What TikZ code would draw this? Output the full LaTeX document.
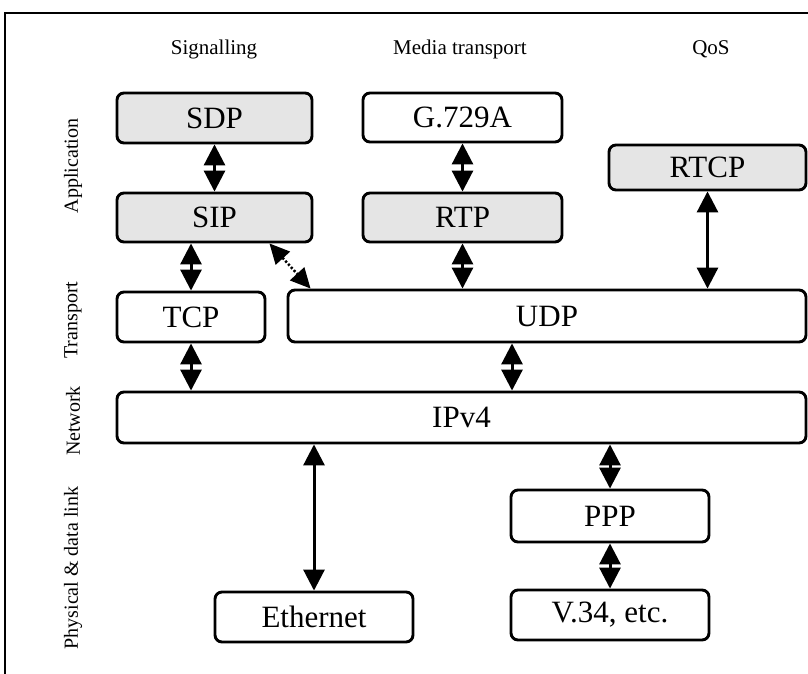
\documentclass[tikz,border=0pt]{standalone}
\usepackage{fontspec}
\setmainfont{Liberation Serif}
\usetikzlibrary{arrows.meta,calc}

\tikzset{
  layerbox/.style={draw=black, line width=2.9pt, rounded corners=7pt,
    inner sep=0pt, font=\fontsize{31}{35}\selectfont},
  shadedbox/.style={layerbox, fill=black!10},
  heading/.style={font=\fontsize{21}{24}\selectfont, anchor=base},
  sidelabel/.style={font=\fontsize{20}{23}\selectfont, rotate=90},
  dbl/.style={line width=3pt,
    {Triangle[length=21pt,width=21pt]}-{Triangle[length=21pt,width=21pt]}},
  dbldot/.style={line width=2.6pt, dash pattern=on 2.2pt off 2pt,
    {Triangle[length=20pt,width=19pt]}-{Triangle[length=20pt,width=19pt]}}
}

\begin{document}
\begin{tikzpicture}[x=1pt, y=-1pt]
  \useasboundingbox (0,0) rectangle (808,674);

  % frame
  \draw[line width=1.8pt] (5,674) -- (5,13) -- (808,13);

  % column headings
  \node[heading] (hsig) at (214,55) {Signalling};
  \node[heading] (hmed) at (460,55) {Media transport};
  \node[heading] (hqos) at (711,55) {QoS};

  % layer labels
  \node[sidelabel] (lapp) at (73,166) {Application};
  \node[sidelabel] (ltra) at (73,320) {Transport};
  \node[sidelabel] (lnet) at (73,421) {Network};
  \node[sidelabel] (lphy) at (73,568) {Physical \& data link};

  % application layer
  \node[shadedbox, minimum width=195pt, minimum height=50pt] (sdp) at (214.5,118) {SDP};
  \node[shadedbox, minimum width=195pt, minimum height=49pt] (sip) at (214.5,217.5) {SIP};
  \node[layerbox, minimum width=199pt, minimum height=49pt] (g729) at (462.5,117.5) {G.729A};
  \node[shadedbox, minimum width=199pt, minimum height=49pt] (rtp) at (462.5,217.5) {RTP};
  \node[shadedbox, minimum width=197pt, minimum height=45pt] (rtcp) at (707.5,167.5) {RTCP};

  % transport layer
  \node[layerbox, minimum width=148pt, minimum height=50pt] (tcp) at (191,317) {TCP};
  \node[layerbox, minimum width=518pt, minimum height=52pt] (udp) at (547,316) {UDP};

  % network layer
  \node[layerbox, minimum width=689pt, minimum height=51pt] (ipv4) at (461.5,417.5) {IPv4};

  % physical and data link layer
  \node[layerbox, minimum width=198pt, minimum height=52pt] (ppp) at (610,516) {PPP};
  \node[layerbox, minimum width=198pt, minimum height=50pt] (v34) at (610,615) {V.34, etc.};
  \node[layerbox, minimum width=198pt, minimum height=50pt] (eth) at (314,617) {Ethernet};

  % connectors
  \coordinate (xudp) at (512,0);
  \draw[dbl] (sdp.south) -- (sip.north);
  \draw[dbl] (sip.south -| tcp.north) -- (tcp.north);
  \draw[dbldot] ([xshift=-44pt]sip.south east) -- ([xshift=24pt]udp.north west);
  \draw[dbl] (g729.south) -- (rtp.north);
  \draw[dbl] (rtp.south) -- (rtp.south |- udp.north);
  \draw[dbl] (rtcp.south) -- (rtcp.south |- udp.north);
  \draw[dbl] (tcp.south) -- (tcp.south |- ipv4.north);
  \draw[dbl] (xudp |- udp.south) -- (xudp |- ipv4.north);
  \draw[dbl] (ppp.north |- ipv4.south) -- (ppp.north);
  \draw[dbl] (ppp.south) -- (v34.north);
  \draw[dbl] (eth.north |- ipv4.south) -- (eth.north);
\end{tikzpicture}
\end{document}
